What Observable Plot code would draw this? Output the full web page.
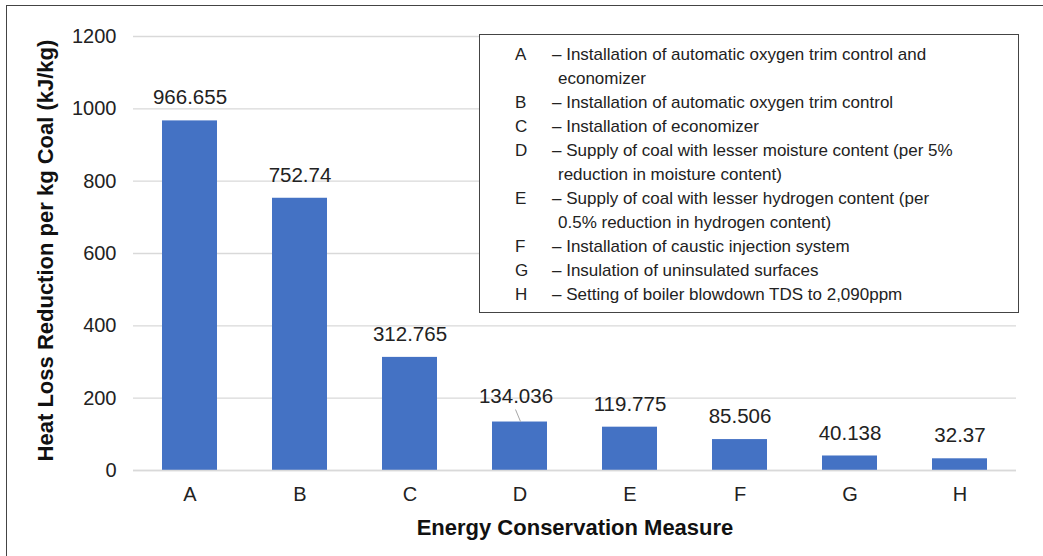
<!DOCTYPE html>
<html>
<head>
<meta charset="utf-8">
<script src="https://cdn.jsdelivr.net/npm/d3@7"></script>
<script src="https://cdn.jsdelivr.net/npm/@observablehq/plot@0.6"></script>
<style>
  html, body { margin: 0; padding: 0; background: #fff; }
  #wrap { position: relative; width: 1043px; height: 556px; overflow: hidden; font-family: "Liberation Sans", Arial, sans-serif; }
  #frame { position: absolute; left: 6px; top: 5px; width: 1100px; height: 600px; border-top: 1.5px solid #444; border-left: 1.5px solid #444; }
  #chart { position: absolute; left: 0; top: 0; }
  #legend { position: absolute; left: 479px; top: 34px; width: 540px; height: 279px; border: 1.5px solid #444; box-sizing: border-box; background: #fff; font-size: 17px; color: #222; }
  .entry { position: absolute; left: 0; white-space: pre; line-height: 24px; }
  .letter { position: absolute; left: 35px; }
  .desc { position: absolute; }
</style>
</head>
<body>
<div id="wrap">
  <div id="frame"></div>
  <div id="chart"></div>
  <div id="legend"></div>
</div>
<script>
const categories = ["A", "B", "C", "D", "E", "F", "G", "H"];
const values = [966.655, 752.74, 312.765, 134.036, 119.775, 85.506, 40.138, 32.37];
const valueLabels = ["966.655", "752.74", "312.765", "134.036", "119.775", "85.506", "40.138", "32.37"];
const descriptions = [
  "Installation of automatic oxygen trim control and\neconomizer",
  "Installation of automatic oxygen trim control",
  "Installation of economizer",
  "Supply of coal with lesser moisture content (per 5%\nreduction in moisture content)",
  "Supply of coal with lesser hydrogen content (per\n0.5% reduction in hydrogen content)",
  "Installation of caustic injection system",
  "Insulation of uninsulated surfaces",
  "Setting of boiler blowdown TDS to 2,090ppm"
];
const yTicks = [0, 200, 400, 600, 800, 1000, 1200];
const xTitle = "Energy Conservation Measure";
const yTitle = "Heat Loss Reduction per kg Coal (kJ/kg)";
const leaderCategory = "D";

const data = categories.map((c, i) => ({cat: c, v: values[i], label: valueLabels[i]}));
const font = "Liberation Sans, Arial, sans-serif";

const plot = Plot.plot({
  width: 1043,
  height: 556,
  marginLeft: 133,
  marginRight: 27,
  marginTop: 36,
  marginBottom: 86,
  style: {fontFamily: font, fontSize: "20px", color: "#222", background: "transparent"},
  x: {domain: categories, paddingInner: 0.5, paddingOuter: 0.25, label: null},
  y: {domain: [0, 1200], label: null},
  marks: [
    Plot.gridY(yTicks, {stroke: "#d9d9d9", strokeOpacity: 1, strokeWidth: 1.3}),
    Plot.axisY(yTicks, {tickSize: 0, tickPadding: 17, fontSize: 20, fill: "#222", label: null, tickFormat: d => String(d)}),
    Plot.axisX({tickSize: 0, tickPadding: 16, fontSize: 20, fill: "#222", label: null}),
    Plot.barY(data, {x: "cat", y: "v", fill: "#4472C4"}),
    Plot.ruleY([0], {stroke: "#d9d9d9", strokeWidth: 1.5}),
    Plot.text(data.filter(d => d.cat !== leaderCategory), {x: "cat", y: "v", text: "label", lineAnchor: "middle", dy: -23, fontSize: 20.5, fill: "#222"}),
    Plot.text(data.filter(d => d.cat === leaderCategory), {x: "cat", y: "v", text: "label", lineAnchor: "middle", dy: -26, dx: -4, fontSize: 20.5, fill: "#222"}),
    Plot.text([xTitle], {frameAnchor: "bottom", dy: 57, lineAnchor: "middle", fontSize: 22, fontWeight: "bold", fill: "#111"}),
    Plot.text([yTitle], {frameAnchor: "left", dx: -88, dy: -3, rotate: -90, textAnchor: "middle", lineAnchor: "middle", fontSize: 22, fontWeight: "bold", fill: "#111"})
  ]
});
document.getElementById("chart").appendChild(plot);

// leader line for the D label, positioned with the plot's own scales
const xs = plot.scale("x"), ys = plot.scale("y");
const dDatum = data.find(d => d.cat === leaderCategory);
const cx = xs.apply(dDatum.cat) + xs.bandwidth / 2;
const cy = ys.apply(dDatum.v);
d3.select(plot).append("line")
  .attr("x1", cx - 4).attr("y1", cy - 12)
  .attr("x2", cx + 1).attr("y2", cy)
  .attr("stroke", "#a6a6a6").attr("stroke-width", 1);

// legend
const legend = document.getElementById("legend");
let line = 0;
categories.forEach((c, i) => {
  const parts = descriptions[i].split("\n");
  const e = document.createElement("div");
  e.className = "entry";
  e.style.top = (8 + line * 24) + "px";
  const l = document.createElement("span");
  l.className = "letter"; l.textContent = c;
  e.appendChild(l);
  parts.forEach((p, j) => {
    const s = document.createElement("div");
    s.className = "desc";
    s.style.top = (j * 24) + "px";
    s.style.left = j === 0 ? "72px" : "78px";
    s.textContent = (j === 0 ? "\u2013 " : "") + p;
    e.appendChild(s);
  });
  legend.appendChild(e);
  line += parts.length;
});
</script>
</body>
</html>
